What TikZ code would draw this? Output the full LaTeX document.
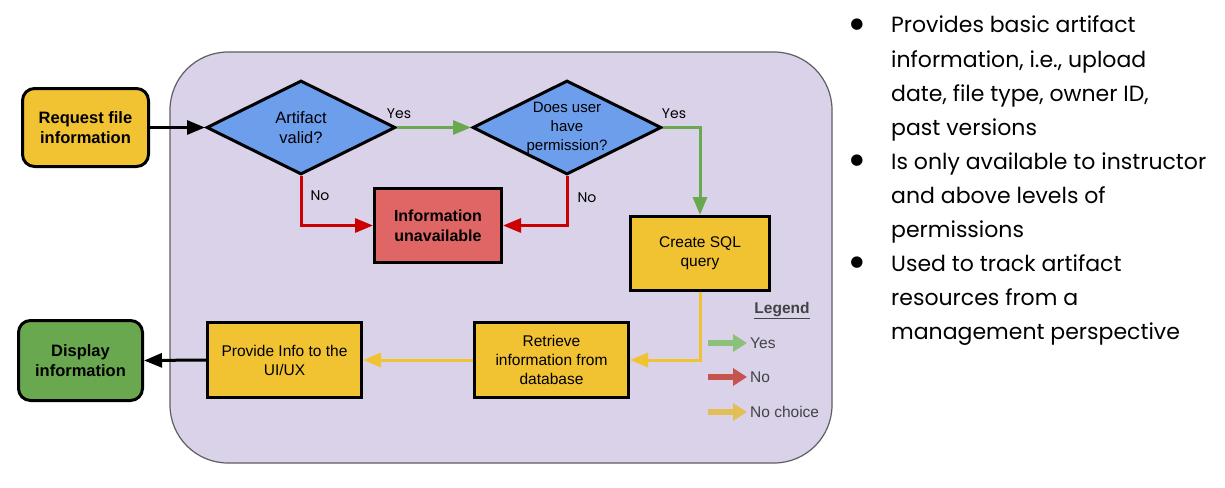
\documentclass[tikz,border=0pt]{standalone}
\usepackage{fontspec}
\setmainfont{Liberation Sans}
\newfontfamily\gfont{Poppins}
\newfontfamily\symfont{DejaVu Sans}
\usetikzlibrary{shapes.geometric,arrows.meta}
\definecolor{lav}{HTML}{D9D2E9}
\definecolor{lavborder}{HTML}{5F5F5F}
\definecolor{ybox}{HTML}{F1C232}
\definecolor{bdec}{HTML}{6D9EEB}
\definecolor{rbox}{HTML}{E06666}
\definecolor{gbox}{HTML}{6AA84F}
\definecolor{garr}{HTML}{6AA84F}
\definecolor{rarr}{HTML}{CC0000}
\definecolor{yarr}{HTML}{F1C232}
\definecolor{lgG}{HTML}{8CC07B}
\definecolor{lgR}{HTML}{C5544C}
\definecolor{lgY}{HTML}{E2BE56}
\definecolor{lgtext}{HTML}{434343}
\begin{document}
\begin{tikzpicture}[x=1pt,y=-1pt,
  procbox/.style={draw=black, line width=3pt, fill=ybox, inner sep=0pt, align=center,
    font=\fontsize{15.5}{19}\selectfont},
  termbox/.style={draw=black, line width=3pt, rounded corners=12pt, inner sep=0pt, align=center,
    font=\fontsize{16.5}{20}\selectfont\bfseries},
  decbox/.style={diamond, draw=black, line width=3pt, fill=bdec, aspect=2, inner sep=0pt,
    minimum width=189pt, minimum height=94pt},
  dectext/.style={align=center, inner sep=0pt},
  flow/.style={line width=3pt, -{Triangle[length=18pt,width=14pt]}},
  legarr/.style={line width=6pt, -{Triangle[length=14pt,width=17pt]}},
  lbl/.style={font=\gfont\fontsize{14}{16}\selectfont, inner sep=0pt},
  legtext/.style={font=\fontsize{15.5}{18}\selectfont, text=lgtext, anchor=west, inner sep=0pt},
  btext/.style={font=\gfont\fontsize{22}{26}\selectfont, anchor=base west, inner sep=0pt},
  bullet/.style={font=\symfont\fontsize{15}{17}\selectfont, inner sep=0pt}
]
\useasboundingbox (0,0) rectangle (1225,487);
\fill[white] (0,0) rectangle (1225,487);

% container
\draw[fill=lav, draw=lavborder, line width=1.2pt, rounded corners=58pt] (170,52) rectangle (832,463);

% nodes
\node[termbox, fill=ybox, minimum width=126pt, minimum height=78pt] (req) at (85.5,127.5) {Request file\\information};
\node[decbox] (d1) at (301,127.5) {};
\node[dectext, font=\fontsize{16.5}{20}\selectfont] (d1t) at (301,127.5) {Artifact\\valid?};
\node[decbox] (d2) at (567,127.5) {};
\node[dectext, font=\fontsize{15}{19}\selectfont] (d2t) at (567,127.5) {Does user\\have\\permission?};
\node[procbox, fill=rbox, font=\fontsize{16}{20}\selectfont\bfseries, minimum width=127pt, minimum height=74pt] (info) at (438,225.5) {Information\\unavailable};
\node[procbox, minimum width=139pt, minimum height=74pt] (sql) at (700,253.5) {Create SQL\\query};
\node[procbox, minimum width=154pt, minimum height=75pt] (retr) at (551.5,360) {Retrieve\\information from\\database};
\node[procbox, minimum width=154pt, minimum height=75pt] (prov) at (284.5,360) {Provide Info to the\\UI/UX};
\node[termbox, fill=gbox, minimum width=124pt, minimum height=80pt] (disp) at (80.5,360.5) {Display\\information};

% connectors
\draw[flow, black] (req.east) -- (d1.west);
\draw[flow, garr] (d1.east) -- (d2.west);
\draw[flow, garr] (d2.east) -| (sql.north);
\draw[flow, rarr] (d1.south) |- (info.west);
\draw[flow, rarr] (d2.south) |- (info.east);
\draw[flow, yarr] (sql.south) |- (retr.east);
\draw[flow, yarr] (retr.west) -- (prov.east);
\draw[flow, black] (prov.west) -- (disp.east);

% connector labels
\node[lbl] (y1) at (399,114) {Yes};
\node[lbl] (y2) at (674,114) {Yes};
\node[lbl] (n1) at (320,196) {No};
\node[lbl] (n2) at (587,198) {No};

% legend
\node[font=\fontsize{15.5}{18}\selectfont\bfseries, text=lgtext, inner sep=0pt] (leg) at (782,311) {\underline{Legend}};
\coordinate (lg1a) at (708,343); \coordinate (lg1b) at (747,343);
\coordinate (lg2a) at (708,377); \coordinate (lg2b) at (747,377);
\coordinate (lg3a) at (708,412); \coordinate (lg3b) at (747,412);
\draw[legarr, lgG] (lg1a) -- (lg1b);
\draw[legarr, lgR] (lg2a) -- (lg2b);
\draw[legarr, lgY] (lg3a) -- (lg3b);
\node[legtext] (lgy) at (750,343) {Yes};
\node[legtext] (lgn) at (750,377) {No};
\node[legtext] (lgc) at (750,412) {No choice};

% bullet text
\node[bullet] (b1) at (857,25) {●};
\node[bullet] (b2) at (857,161) {●};
\node[bullet] (b3) at (857,263) {●};
\node[btext] (t1) at (891,33) {Provides basic artifact};
\node[btext] (t2) at (891,67) {information, i.e., upload};
\node[btext] (t3) at (891,101) {date, file type, owner ID,};
\node[btext] (t4) at (891,135) {past versions};
\node[btext] (t5) at (891,169) {Is only available to instructor};
\node[btext] (t6) at (891,203) {and above levels of};
\node[btext] (t7) at (891,237) {permissions};
\node[btext] (t8) at (891,271) {Used to track artifact};
\node[btext] (t9) at (891,305) {resources from a};
\node[btext] (t10) at (891,339) {management perspective};
\end{tikzpicture}
\end{document}
